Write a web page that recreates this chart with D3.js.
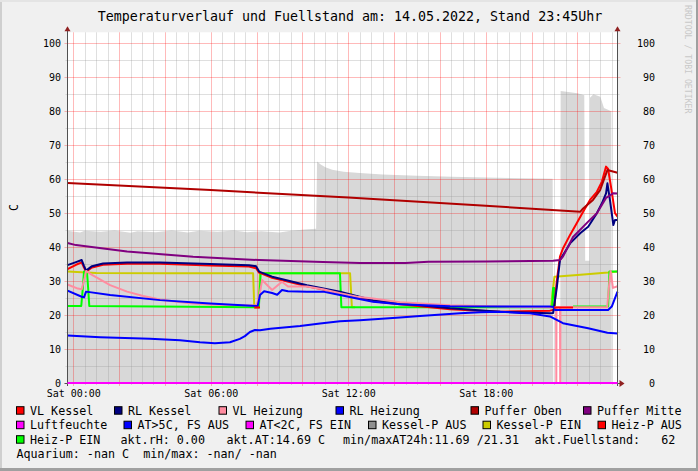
<!DOCTYPE html>
<html><head><meta charset="utf-8">
<script src="https://cdn.jsdelivr.net/npm/d3@7"></script>
<style>html,body{margin:0;padding:0;background:#f0f0f0;}svg{display:block;}</style>
</head><body><div id="chart"></div>
<script>
// ---------- DATA (time in hours of 14.05.2022, value in °C / %) ----------
const title = "Temperaturverlauf und Fuellstand am: 14.05.2022, Stand 23:45Uhr";
const yTicks = [0,10,20,30,40,50,60,70,80,90,100];
const xTicks = [0,6,12,18];
const xTickLabels = ["Sat 00:00","Sat 06:00","Sat 12:00","Sat 18:00"];

const fuellstand = [[-0.25,44.8],[0.3,44.3],[0.5,44.8],[1.2,44.5],[1.8,44.9],[2.5,44.2],[2.8,44.7],[3.6,44.4],[4.3,44.9],[5.0,44.3],[5.5,44.8],[6.3,44.5],[7.0,44.9],[7.6,44.4],[8.2,44.7],[9.0,44.3],[9.5,44.8],[10.1,45.2],[10.6,45.4],[10.64,65.2],[10.8,64.3],[11.0,63.5],[11.3,62.8],[11.8,62.2],[12.5,61.8],[13.5,61.4],[15,61],[16.5,60.7],[18,60.5],[19.5,60.3],[20.92,60.1],[20.95,0],[21.25,0],[21.27,86],[21.6,85.7],[22.0,85.3],[22.3,84.7],[22.34,36],[22.53,36],[22.55,84],[22.7,85],[23.0,84.3],[23.16,81],[23.48,80],[23.5,0]];

const vlKessel = [[-0.25,33.5],[0.12,34.8],[0.37,35.5],[0.47,34],[0.56,32.8],[0.82,34],[1.3,34.8],[2.35,35.1],[3.79,35.1],[5.97,34.6],[7.67,34.3],[7.98,33.8],[8.11,32.5],[8.68,31],[10.2,28.5],[11.64,26.6],[13.08,24.1],[14.26,23.2],[16.44,21.7],[18.63,21.0],[20.8,21.3],[20.98,21.6],[21.1,30],[21.24,37.2],[21.37,39.6],[21.68,43.6],[21.97,47],[22.25,50.4],[22.55,53.9],[22.85,56.3],[23.07,59.3],[23.25,63.7],[23.34,63],[23.49,56.8],[23.64,50],[23.75,49]];
const rlKessel = [[-0.25,34.7],[0.12,35.6],[0.37,36.2],[0.47,34.5],[0.56,33.1],[0.82,34.4],[1.3,35.2],[2.35,35.5],[3.79,35.5],[5.97,35.0],[7.67,34.7],[7.98,34.4],[8.11,32.8],[8.68,31.3],[10.2,28.8],[11.64,26.9],[13.08,24.4],[14.26,23.5],[16.44,22],[18.63,21],[20.8,20.5],[20.94,20.6],[21.1,28],[21.24,36.2],[21.33,37.2],[21.68,41.1],[22.12,44.1],[22.47,46],[22.85,50],[23.07,52.9],[23.25,55.8],[23.31,58.8],[23.42,53.9],[23.57,46.5],[23.64,48],[23.75,48]];
const vlHeizung = [[-0.25,29.0],[0.2,27.8],[0.37,27.6],[0.5,31],[0.56,33],[0.82,31.8],[1.61,28.8],[2.35,26.9],[3.05,25.6],[3.79,24.6],[4.52,23.9],[5.23,23.4],[5.97,23.1],[7.98,22.8],[8.11,25],[8.24,30.3],[8.68,27.4],[9.11,29.8],[9.37,28.4],[10.2,28.4],[10.9,27.6],[11.64,26.4],[12.38,25.4],[13.08,24.9],[14.26,23.8],[16.44,22.9],[18.63,22.5],[20.8,22.3],[21.07,22.3],[21.08,0],[21.09,22.3],[21.24,22.3],[21.25,0],[21.26,22.3],[23.3,22.3],[23.4,30],[23.45,33],[23.55,28],[23.75,28.5]];
const rlHeizung = [[-0.25,27.2],[0.37,25.4],[0.47,25.2],[0.56,26.9],[1.61,25.9],[3.79,24.4],[5.97,23.4],[7.98,22.7],[8.05,22.7],[8.15,25.9],[8.33,27.0],[8.68,26.5],[8.9,26.0],[9.11,27.4],[9.37,27.0],[10.2,26.9],[10.9,26.9],[11.64,25.9],[12.38,24.9],[13.08,23.9],[14.26,23.2],[16.44,22.6],[18.63,22.5],[20.8,22.5],[20.98,22.4],[21.02,21.5],[23.34,21.5],[23.5,22.5],[23.75,26.9]];
const pufferOben = [[-0.25,58.9],[6,56.8],[12,54.6],[18,52.2],[22.12,50.4],[22.25,51.4],[22.68,53.9],[22.99,56.8],[23.2,60.7],[23.31,62.7],[23.75,61.9]];
const pufferMitte = [[-0.25,41.2],[0.12,40.6],[2.35,38.7],[5.23,37.2],[8.11,36.2],[10.9,35.6],[12.5,35.3],[14.5,35.3],[15.5,35.7],[18,35.8],[20.94,36],[21.24,36.2],[21.37,37.2],[21.81,43],[22.47,47.5],[22.85,50],[23.25,54.5],[23.57,55.9],[23.75,55.8]];
const luftfeuchte = [[-0.25,0],[23.75,0]];
const aussenTemp = [[-0.25,14.0],[1.17,13.5],[3.35,13.0],[4.66,12.6],[5.53,12.0],[6.18,11.7],[6.84,12.0],[7.27,13.0],[7.49,13.8],[7.71,15.0],[7.93,15.6],[8.15,15.5],[8.6,16.0],[9.9,16.8],[10.77,17.5],[11.64,18.2],[12.51,18.5],[14.26,19.3],[15.13,19.7],[16.88,20.5],[17.75,20.8],[18.63,21.0],[19.5,20.6],[19.93,20.5],[20.8,19.6],[21.37,17.6],[22.47,16.1],[23.31,14.8],[23.75,14.6]];
const kesselPEin = [[-0.25,32.8],[1,32.4],[4,32.3],[7.85,32.3],[7.9,22.3],[8.1,22.3],[8.15,32.3],[12.08,32.3],[12.16,22.3],[12.3,22.3],[NaN,NaN],[20.85,22.3],[20.94,28],[21.0,31.3],[22,31.8],[23.34,32.5],[23.75,32.8]];
const heizPAus = [[7.9,22.2],[8.15,22.2],[NaN,NaN],[20.98,22.2],[21.81,22.2]];
const heizPEin = [[-0.25,22.7],[0.35,22.7],[0.42,28],[0.47,32.8],[0.6,32.8],[0.65,28],[0.7,22.7],[7.98,22.3],[8.1,22.3],[8.18,32.3],[11.64,32.3],[11.7,22.3],[20.9,22.3],[20.94,28],[20.99,28],[21.02,22.3],[NaN,NaN],[21.81,22.5],[23.34,22.5],[23.4,32.8],[23.75,32.8]];

const legendRows = [
  [["VL Kessel","#ff0000",30],["RL Kessel","#000080",128],["VL Heizung","#ff8ca0",232.5],["RL Heizung","#0000ff",349.5],["Puffer Oben","#b00000",484.5],["Puffer Mitte","#800080",597]],
  [["Luftfeuchte","#ff00ff",30],["AT>5C, FS AUS","#0000ff",137.5],["AT<2C, FS EIN","#ff00ff",259.5],["Kessel-P AUS","#909090",382],["Kessel-P EIN","#cccc00",496.5],["Heiz-P AUS","#ff0000",611.5]],
];
const row3 = [["Heiz-P EIN",30,true,"#00ff00"],["akt.rH: 0.00",120.5],["akt.AT:14.69 C",226.5],["min/maxAT24h:11.69 /21.31",343],["akt.Fuellstand:   62",534.5]];
const row4 = "Aquarium: -nan C  min/max: -nan/ -nan";

// ---------- DRAW ----------
const W=698,H=471, L=67.5, R=617.5, T=32.3, B=383;
const mono = "'DejaVu Sans Mono', monospace";
const svg = d3.select("#chart").append("svg").attr("width",W).attr("height",H);
svg.append("rect").attr("width",W).attr("height",H).attr("fill","#f0f0f0");
svg.append("line").attr("x1",1).attr("x2",1).attr("y1",0).attr("y2",H).attr("stroke","#cfcfcf").attr("stroke-width",2);
svg.append("line").attr("x1",0).attr("x2",W).attr("y1",1).attr("y2",1).attr("stroke","#e4e4e4").attr("stroke-width",2);
svg.append("line").attr("x1",W-1).attr("x2",W-1).attr("y1",0).attr("y2",H).attr("stroke","#a0a0a0").attr("stroke-width",2);
svg.append("line").attr("x1",0).attr("x2",W).attr("y1",H-1.5).attr("y2",H-1.5).attr("stroke","#a0a0a0").attr("stroke-width",3);

const x = d3.scaleLinear().domain([-0.25,23.75]).range([L,R]);
const y = d3.scaleLinear().domain([0,103.25]).range([B,T]);

svg.append("rect").attr("x",L).attr("y",T).attr("width",R-L).attr("height",B-T).attr("fill","#ffffff");

// area
const area = d3.area().x(d=>x(d[0])).y0(y(0)).y1(d=>y(d[1])).curve(d3.curveLinear);
svg.append("path").datum(fuellstand).attr("d",area).attr("fill","#d8d8d8");

// grid
const g = svg.append("g");
const minorX = d3.range(0,24,0.5).filter(h=>h%2!==0);
const majorX = d3.range(0,24,2);
minorX.forEach(h=>{const px=Math.round(x(h))+0.5; g.append("line").attr("x1",px).attr("x2",px).attr("y1",T).attr("y2",B+2).attr("stroke","rgba(150,150,150,0.3)");});
d3.range(5,105,10).forEach(v=>{const py=Math.round(y(v))+0.5; g.append("line").attr("x1",L-2).attr("x2",R+2).attr("y1",py).attr("y2",py).attr("stroke","rgba(150,150,150,0.3)");});
majorX.forEach(h=>{const px=Math.round(x(h))+0.5; g.append("line").attr("x1",px).attr("x2",px).attr("y1",T).attr("y2",B+3).attr("stroke","rgba(255,0,0,0.27)");});
yTicks.filter(v=>v>0).forEach(v=>{const py=Math.round(y(v))+0.5; g.append("line").attr("x1",L-3).attr("x2",R+3).attr("y1",py).attr("y2",py).attr("stroke","rgba(255,0,0,0.27)");});

// lines
const line = d3.line().defined(d=>!isNaN(d[0])).x(d=>x(d[0])).y(d=>y(d[1]));
function draw(data,color,w){svg.append("path").datum(data).attr("d",line).attr("fill","none").attr("stroke",color).attr("stroke-width",w||2).attr("stroke-linejoin","round");}
draw(kesselPEin,"#cccc00");
draw(heizPEin,"#00ff00");
draw(vlKessel,"#ff0000");
draw(rlKessel,"#000080");
draw(vlHeizung,"#ff8ca0");
draw(rlHeizung,"#0000ff");
draw(pufferOben,"#b00000");
draw(pufferMitte,"#800080");
draw(aussenTemp,"#0000ff");
draw(heizPAus,"#ff0000");

// axes
svg.append("line").attr("x1",L).attr("x2",L).attr("y1",B+3).attr("y2",T-4).attr("stroke","#505050");
svg.append("line").attr("x1",R).attr("x2",R).attr("y1",B+3).attr("y2",T-4).attr("stroke","#505050");
svg.append("line").attr("x1",L-3).attr("x2",R+4).attr("y1",B+0.5).attr("y2",B+0.5).attr("stroke","#505050");
draw(luftfeuchte,"#ff00ff");
const arrow = "#902020";
[L,R].forEach(px=>svg.append("path").attr("d",`M${px-3},${T-1} L${px+3},${T-1} L${px},${T-6} Z`).attr("fill",arrow));
svg.append("path").attr("d",`M${R+2},${B-3} L${R+2},${B+4} L${R+7},${B+0.5} Z`).attr("fill",arrow);

const axL = d3.axisLeft(y).tickValues(yTicks).tickSize(0).tickPadding(0);
const gl = svg.append("g").attr("transform",`translate(61,0)`).call(axL);
const axR = d3.axisLeft(y).tickValues(yTicks).tickSize(0).tickPadding(0);
const gr = svg.append("g").attr("transform",`translate(655,0)`).call(axR);
const axB = d3.axisBottom(x).tickValues(xTicks).tickSize(0).tickPadding(0).tickFormat((d,i)=>xTickLabels[i]);
const gb = svg.append("g").attr("transform",`translate(0,389)`).call(axB);
[gl,gr,gb].forEach(a=>{a.select(".domain").remove(); a.selectAll("text").attr("font-family",mono).attr("font-size","10px").attr("fill","#000");});
gl.selectAll("text").attr("dy","0.35em");
gr.selectAll("text").attr("dy","0.35em");
gb.selectAll("text").attr("dy","0.75em");

// title & unit
svg.append("text").attr("x",350).attr("y",21).attr("text-anchor","middle").attr("font-family",mono).attr("font-size","13.3px").text(title);
svg.append("text").attr("transform","translate(18,207.5) rotate(-90)").attr("text-anchor","middle").attr("font-family",mono).attr("font-size","11.7px").text("C");
svg.append("text").attr("transform","translate(685,5) rotate(90)").attr("font-family",mono).attr("font-size","8.2px").attr("fill","#c8c8c8").text("RRDTOOL / TOBI OETIKER");

// legend
const rowY = [410.5,425,439.5,454];
function swatch(tx,ty,color){svg.append("rect").attr("x",tx-13.5).attr("y",ty-3.8).attr("width",7.5).attr("height",7.5).attr("fill",color).attr("stroke","#000").attr("stroke-width",1);}
function txt(tx,ty,s){svg.append("text").attr("x",tx).attr("y",ty).attr("dy","0.35em").attr("font-family",mono).attr("font-size","11.7px").attr("fill","#000").attr("xml:space","preserve").style("white-space","pre").text(s);}
legendRows.forEach((row,i)=>row.forEach(([s,c,tx])=>{swatch(tx,rowY[i],c);txt(tx,rowY[i],s);}));
row3.forEach(([s,tx,sw,c])=>{if(sw)swatch(tx,rowY[2],c);txt(tx,rowY[2],s);});
txt(16.5,rowY[3],row4);
</script></body></html>
